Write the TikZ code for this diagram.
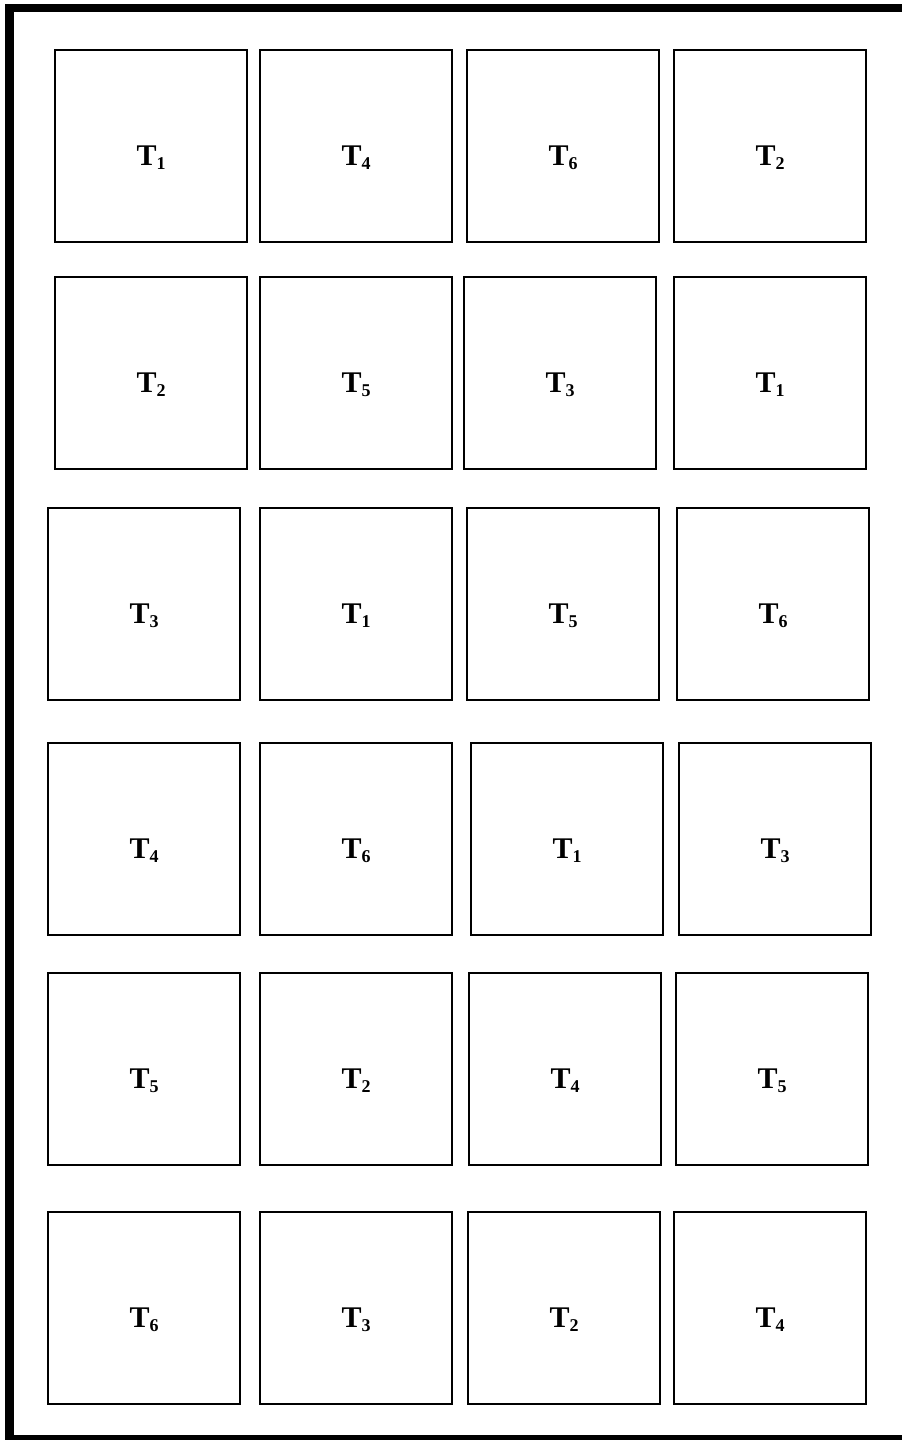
\documentclass[tikz,border=0pt]{standalone}
\usepackage{fontspec}
\setmainfont{Liberation Serif}
\tikzset{
  cell/.style={draw=black, line width=1.7pt, rectangle, inner sep=0pt, minimum width=192pt, minimum height=192pt, anchor=north west},
  lbl/.style={anchor=base, inner sep=0pt, font=\fontsize{30}{30}\selectfont\bfseries},
  frame/.style={draw=black, line width=8.5pt, line join=miter}
}
\newcommand{\Tlab}[1]{T\raisebox{-4.5pt}{\fontsize{18}{18}\selectfont\bfseries #1}}
\begin{document}
\begin{tikzpicture}[x=1pt, y=-1pt]
\useasboundingbox (0,0) rectangle (902,1440);
\clip (0,0) rectangle (902,1440);
\draw[frame] (915,8) -- (9.5,8) -- (9.5,1439) -- (915,1439);
\foreach \r/\ty/\xa/\xb/\xc/\xd/\la/\lb/\lc/\ld in {
  1/49/54/259/466/673/1/4/6/2,
  2/276/54/259/463/673/2/5/3/1,
  3/507/47/259/466/676/3/1/5/6,
  4/742/47/259/470/678/4/6/1/3,
  5/972/47/259/468/675/5/2/4/5,
  6/1211/47/259/467/673/6/3/2/4}{
  \node[cell] (b\r-1) at (\xa+0.3,\ty+0.3) {};
  \node[cell] (b\r-2) at (\xb+0.3,\ty+0.3) {};
  \node[cell] (b\r-3) at (\xc+0.3,\ty+0.3) {};
  \node[cell] (b\r-4) at (\xd+0.3,\ty+0.3) {};
  \node[lbl] (t\r-1) at ([yshift=-19pt]b\r-1.center) {\Tlab{\la}};
  \node[lbl] (t\r-2) at ([yshift=-19pt]b\r-2.center) {\Tlab{\lb}};
  \node[lbl] (t\r-3) at ([yshift=-19pt]b\r-3.center) {\Tlab{\lc}};
  \node[lbl] (t\r-4) at ([yshift=-19pt]b\r-4.center) {\Tlab{\ld}};
}
\end{tikzpicture}
\end{document}
